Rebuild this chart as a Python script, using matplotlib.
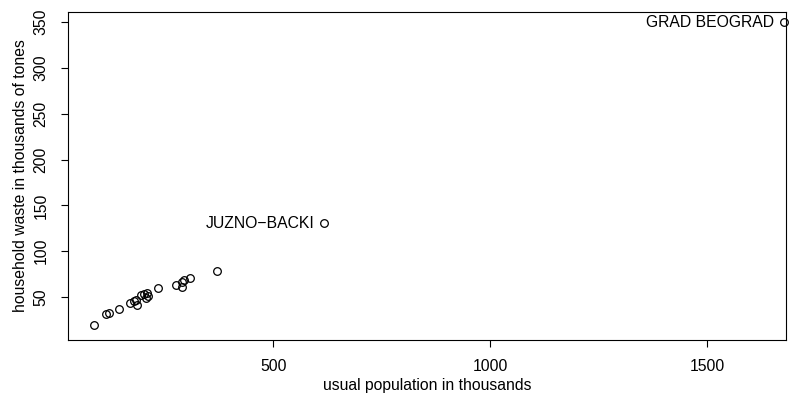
import matplotlib
matplotlib.use("Agg")
import matplotlib.pyplot as plt

population = [88, 113.6, 120.5, 143.5, 170.5, 178, 183.6, 185, 195.9, 202.8, 209, 207.4,
              210.4, 235, 276.5, 289.6, 288.7, 293.3, 307.1, 370.3, 617.5, 1677]
waste = [19.1, 31.1, 32.5, 37.2, 43.1, 45.3, 46.7, 41.6, 51.9, 53.3, 54, 49.2,
         51.1, 60.1, 63.4, 61.2, 66.4, 68.5, 70.4, 78.7, 130.7, 350]
labels = {20: "JUZNO\u2212BACKI", 21: "GRAD BEOGRAD"}
xticks = [500, 1000, 1500]
yticks = [50, 100, 150, 200, 250, 300, 350]

plt.rcParams['font.family'] = ['Liberation Sans', 'DejaVu Sans']
fig = plt.figure(figsize=(8, 3.94), dpi=100)
ax = fig.add_axes([0.085, 0.137, 0.8975, 0.8325])
ax.plot(population, waste, 'o', mfc='none', mec='black', mew=0.9, ms=5.5, ls='none',
        clip_on=False)
for i, t in labels.items():
    ax.annotate(t, (population[i], waste[i]), xytext=(-7, 0), textcoords='offset points',
                ha='right', va='center', fontsize=11.3)
ax.set_xlim(27, 1682)
ax.set_ylim(3, 361)
ax.set_xticks(xticks)
ax.set_yticks(yticks)
ax.set_yticklabels([str(v) for v in yticks], rotation=90, va='center')
ax.tick_params(direction='out', length=5, width=0.8, labelsize=11.3)
ax.tick_params(axis='x', pad=8.5)
ax.tick_params(axis='y', pad=9)
ax.set_xlabel("usual population in thousands", fontsize=11.3, labelpad=3)
ax.set_ylabel("household waste in thousands of tones", fontsize=11.3, labelpad=4)
for s in ax.spines.values():
    s.set_linewidth(0.8)
fig.savefig("out.png", dpi=100)
